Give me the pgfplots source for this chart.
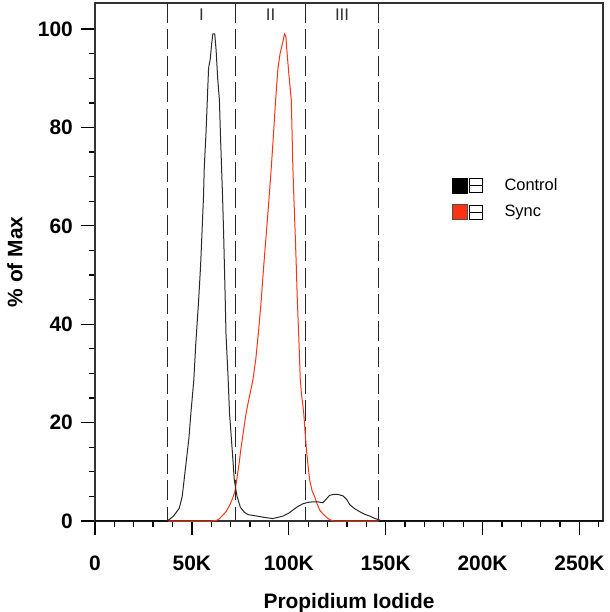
\documentclass[border=0pt]{standalone}
\usepackage{fontspec}
\setmainfont{Liberation Sans}
\usepackage{pgfplots}
\pgfplotsset{compat=1.18}

\definecolor{syncred}{RGB}{255,50,20}
\definecolor{ctrlgray}{RGB}{40,40,40}

% Control histogram: channel value (K) vs. % of max
\pgfplotstableread{
x y
0 0
36 0
37.6 0.1
39 0.5
40.5 1.0
42 1.8
43.5 2.6
45 5
47 11.8
48.5 17
49.5 22
51 28.7
52 36
53.5 45
54.5 52
55.2 58.5
56 66
56.4 72
57.3 79
58 86
58.6 92
59.5 94
60.2 97
60.8 99
61.8 99
62.5 95.7
63.3 90
64.2 85.6
64.7 79
65.3 72
65.9 65
66.4 58
66.8 51.6
67.2 45
67.6 38
68.2 33
68.7 29
69.4 22
70.7 15
71.9 8.3
73.3 5.0
75 2.8
77 1.8
79 1.3
82 1.1
85 0.9
88 0.7
91.6 0.5
94 0.7
97 1.0
100 1.6
102 2.2
104.5 2.9
107.3 3.5
110 3.8
112.5 3.9
115 3.9
117.6 3.7
119 4.3
121 5.2
123 5.4
125.4 5.4
128 5.1
130 4.3
131.5 3.3
134 2.5
136.6 1.9
139 1.4
141.8 1.0
144 0.6
146 0.3
148 0
262.144 0
}\controldata

% Synchronised sample
\pgfplotstableread{
x y
37.6 0
60 0
62.5 0.1
64 0.4
66 1.2
67.6 1.9
69.5 3.2
71 4.6
72.2 6.0
73.1 8.3
74.3 11.5
75.4 15
76.7 18.5
78 22
79.7 25.3
81.5 28.7
83 33
84.5 39
85.8 45
87 51.5
88.4 58.5
89.7 65
91 72
92 78
93.2 85.6
94.4 92
95.5 95
97 97.5
97.8 99
98.5 98.5
99 95.7
100 91
101.3 85.6
102.1 72
102.7 65
103.3 58.5
103.9 51.5
104.4 45
105.2 37
105.9 29
106.5 26
107.7 22
109 15
110 11
110.8 8.3
112 6.2
113.4 4.9
114.7 3.4
116 2.2
117.7 1.4
119.4 0.8
121 0.3
123 0
146.3 0
}\syncdata

\begin{document}
\begin{tikzpicture}
\begin{axis}[
  scale only axis,
  width=508bp, height=518bp,
  xmin=0, xmax=262.144,
  ymin=0, ymax=105.3,
  clip=false,
  axis line style={line width=1.3bp, black!80},
  tick pos=left, tick align=outside,
  xtick={0,50,100,150,200,250},
  xticklabels={0,50K,100K,150K,200K,250K},
  minor xtick={10,20,30,40,60,70,80,90,110,120,130,140,160,170,180,190,210,220,230,240,260},
  ytick={0,20,40,60,80,100},
  minor ytick={5,10,15,25,30,35,45,50,55,65,70,75,85,90,95},
  major tick length=14bp, minor tick length=6bp,
  every tick/.style={line width=1.3bp, black},
  /pgf/number format/assume math mode=true,
  ticklabel style={font=\fontsize{21}{21}\selectfont\bfseries},
  xticklabel style={anchor=base, inner sep=0pt, yshift=-35bp},
  yticklabel style={anchor=east, inner sep=0pt, xshift=-8bp},
  xlabel={\bfseries Propidium Iodide},
  xlabel style={at={(axis description cs:0.5,0)}, anchor=base, inner sep=0pt,
    yshift=-87bp, font=\fontsize{21}{21}\selectfont},
  ylabel={\bfseries \% of Max},
  ylabel style={at={(axis description cs:-0.1575,0.5)}, anchor=center, inner sep=0pt,
    font=\fontsize{21}{21}\selectfont},
  legend style={at={(axis description cs:0.703,0.663)}, anchor=north west,
    draw=none, fill=none, inner sep=0pt, row sep=11bp,
    font=\fontsize{16.5}{16.5}\selectfont,
    nodes={inner sep=0pt},
    /tikz/every odd column/.append style={column sep=22bp}},
  legend cell align=left,
]
% thick baseline outside the gated range
\addplot[forget plot, line width=2.6bp, black] coordinates {(0,0) (37.6,0)};
\addplot[forget plot, line width=2.6bp, black] coordinates {(146.3,0) (262.144,0)};

% gate boundaries
\pgfplotsinvokeforeach{37.6,72.5,108.7,146.3}{
  \addplot[forget plot, line width=1.1bp, black!85, dash pattern=on 20bp off 6.5bp]
    coordinates {(#1,105.3) (#1,0)};
}

\addplot[forget plot, syncred, line width=1bp] table[x=x,y=y] {\syncdata};
\addplot[forget plot, ctrlgray, line width=1bp] table[x=x,y=y] {\controldata};

% gate names
\node[font=\fontsize{17}{17}\selectfont, black!80] at (axis cs:55,102.9) {I};
\node[font=\fontsize{17}{17}\selectfont, black!80] at (axis cs:90.6,102.9) {II};
\node[font=\fontsize{17}{17}\selectfont, black!80] at (axis cs:127.5,102.9) {III};

\addlegendimage{legend image code/.code={
  \fill[black] (0bp,-7.5bp) rectangle (15bp,7.5bp);
  \draw[black, line width=0.8bp, fill=white] (16.5bp,-7bp) rectangle (29.5bp,7bp);
  \draw[black, line width=0.8bp] (16.5bp,0bp) -- (29.5bp,0bp);}}
\addlegendentry{Control}
\addlegendimage{legend image code/.code={
  \fill[syncred] (0bp,-7.5bp) rectangle (15bp,7.5bp);
  \draw[black!70, line width=0.6bp] (0bp,-7.5bp) rectangle (15bp,7.5bp);
  \draw[black, line width=0.8bp, fill=white] (16.5bp,-7bp) rectangle (29.5bp,7bp);
  \draw[black, line width=0.8bp] (16.5bp,0bp) -- (29.5bp,0bp);}}
\addlegendentry{Sync}
\end{axis}
\pgfresetboundingbox
\path (current axis.south west) ++(-95bp,-91bp) rectangle ([xshift=7bp,yshift=3bp]current axis.north east);
\end{tikzpicture}
\end{document}
